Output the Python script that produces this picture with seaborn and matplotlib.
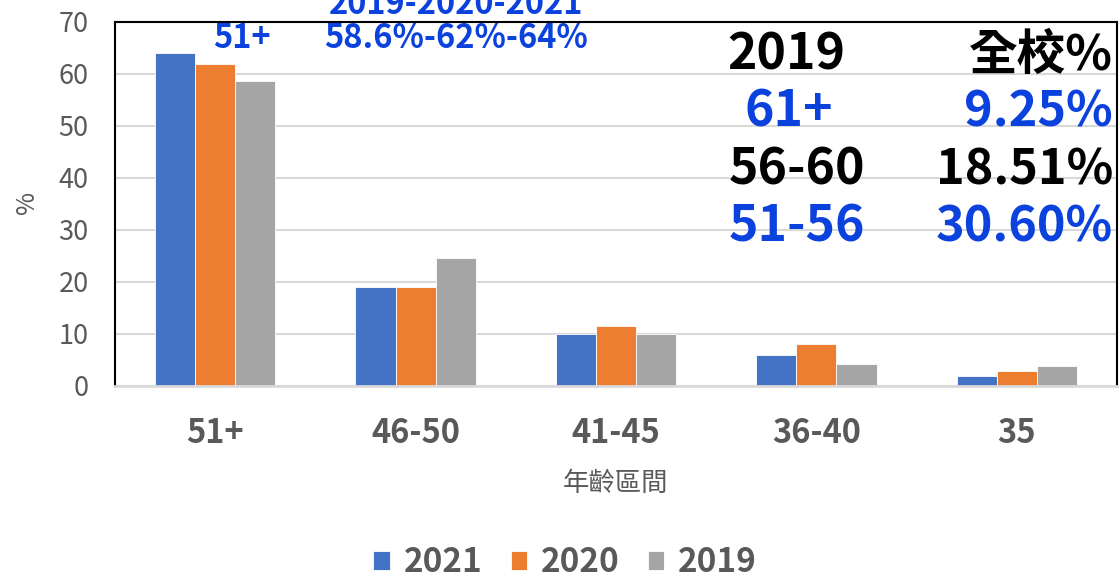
import matplotlib
matplotlib.use("Agg")
from matplotlib import pyplot as plt
import seaborn as sns
import pandas as pd

# dane
groups = ['51+', '46-50', '41-45', '36-40', '35']
years = ['2021', '2020', '2019']
vals_2021 = [64.0, 19.0, 10.0, 6.0, 2.0]
vals_2020 = [62.0, 19.0, 11.5, 8.1, 2.9]
vals_2019 = [58.6, 24.6, 10.0, 4.2, 3.8]

table_left = ['2019', '61+', '56-60', '51-56']
table_right = ['全校%', '9.25%', '18.51%', '30.60%']
table_colors = ['black', '#0B41DD', 'black', '#0B41DD']

rows = []
for yr, vals in zip(years, [vals_2021, vals_2020, vals_2019]):
    for g, v in zip(groups, vals):
        rows.append({'年齡區間': g, 'Rok': yr, '%': v})
df = pd.DataFrame(rows)

sns.set_style("white")
plt.rcParams['font.family'] = ['Noto Sans CJK TC', 'DejaVu Sans']

W, H = 1119, 579
fig = plt.figure(figsize=(W / 100, H / 100), dpi=100)
ax = fig.add_axes([115 / W, 1 - 386 / H, 1002 / W, 364 / H])

palette = {'2021': '#4472C4', '2020': '#ED7D31', '2019': '#A5A5A5'}
sns.barplot(data=df, x='年齡區間', y='%', hue='Rok', hue_order=years,
            order=groups, palette=palette, width=0.6, saturation=1,
            edgecolor='white', linewidth=0.6, ax=ax)

ax.set_ylim(0, 70)
ax.set_xlim(-0.5, 4.5)
ax.set_yticks(range(0, 71, 10))
ax.yaxis.grid(True, color='#D9D9D9', linewidth=1.5)
ax.set_axisbelow(True)
for side in ['left', 'top', 'right']:
    ax.spines[side].set_color('black')
    ax.spines[side].set_linewidth(1.5)
ax.spines['bottom'].set_color('#D9D9D9')
ax.spines['bottom'].set_linewidth(2)

ax.tick_params(axis='y', length=0, pad=19, labelsize=19.5, labelcolor='#595959')
ax.tick_params(axis='x', length=0, pad=22, labelsize=23.5, labelcolor='#595959')
for lbl in ax.get_xticklabels():
    lbl.set_fontweight('bold')

ax.set_xlabel('年齡區間', fontsize=19, color='#595959', va='center')
ax.xaxis.set_label_coords(0.5, (386 - 483) / 364)
ax.set_ylabel('%', fontsize=18, color='#595959', va='center')
ax.yaxis.set_label_coords((27 - 115) / 1002, 0.503)

sns.move_legend(ax, 'center', bbox_to_anchor=((565 - 115) / 1002, (386 - 563) / 364),
                ncol=3, frameon=False, title=None,
                prop={'weight': 'bold', 'size': 24}, labelcolor='#595959',
                handlelength=0.5, handleheight=0.5, handletextpad=0.4,
                columnspacing=0.85)


def px_text(x, y, s, **kw):
    fig.text(x / W, 1 - y / H, s, va='center', fontweight='bold', **kw)


blue = '#0B41DD'
px_text(242, 38, '51+', ha='center', fontsize=23.5, color=blue)
px_text(456, 4, '2019-2020-2021', ha='center', fontsize=23.5, color=blue)
px_text(456, 38, '58.6%-62%-64%', ha='center', fontsize=23.5, color=blue)

row_y = [55, 112, 170, 227]
left_x = [786, 789, 797, 797]
for s_l, s_r, c, y, xl in zip(table_left, table_right, table_colors, row_y, left_x):
    px_text(xl, y, s_l, ha='center', fontsize=36, color=c)
    px_text(1113, y, s_r, ha='right', fontsize=35, color=c)

fig.savefig('out.png', dpi=100)
